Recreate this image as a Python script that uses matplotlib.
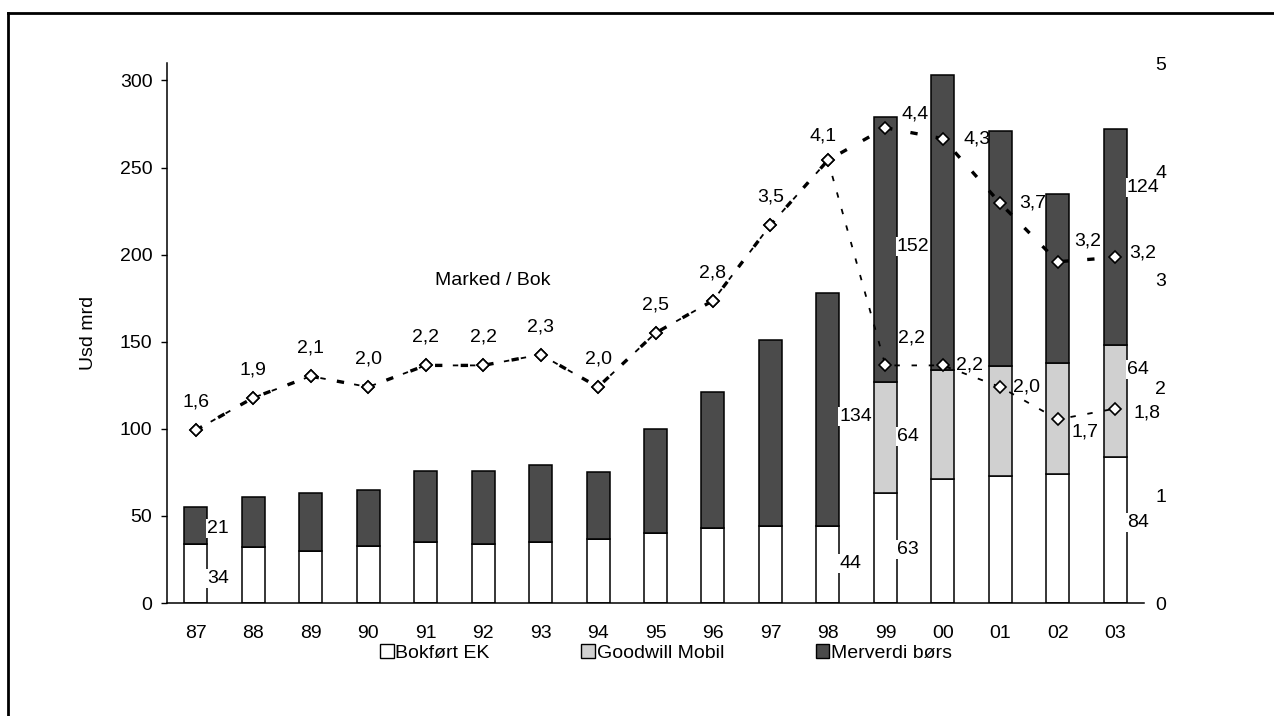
import matplotlib.pyplot as plt
from matplotlib.patches import Patch
from matplotlib.lines import Line2D
import numpy as np

plt.rcParams['font.family'] = ['Liberation Sans', 'DejaVu Sans']
plt.rcParams['font.size'] = 14

# data, USD mrd per year
years = ['87', '88', '89', '90', '91', '92', '93', '94', '95', '96', '97', '98',
         '99', '00', '01', '02', '03']
bokfort = [34, 32, 30, 33, 35, 34, 35, 37, 40, 43, 44, 44, 63, 71, 73, 74, 84]
goodwill = [0, 0, 0, 0, 0, 0, 0, 0, 0, 0, 0, 0, 64, 63, 63, 64, 64]
merverdi = [21, 29, 33, 32, 41, 42, 44, 38, 60, 78, 107, 134, 152, 169, 135, 97, 124]

# Marked / Bok ratio, two variants (with and without goodwill)
mb_a = [1.6, 1.9, 2.1, 2.0, 2.2, 2.2, 2.3, 2.0, 2.5, 2.8, 3.5, 4.1, 4.4, 4.3, 3.7, 3.16, 3.2]
mb_b = [1.6, 1.9, 2.1, 2.0, 2.2, 2.2, 2.3, 2.0, 2.5, 2.8, 3.5, 4.1, 2.2, 2.2, 2.0, 1.7, 1.8]

labels = ['Bokført EK', 'Goodwill Mobil', 'Merverdi børs']
colors = ['white', '#d0d0d0', '#4b4b4b']

x = np.arange(len(years))
bot2 = np.array(bokfort) + np.array(goodwill)

fig = plt.figure(figsize=(12.74, 7.16), dpi=100)
ax = fig.add_axes([167 / 1274, 1 - 603 / 716, 977 / 1274, 540 / 716])

w = 0.4
ax.bar(x, bokfort, w, color=colors[0], edgecolor='black', linewidth=1.1, zorder=2)
ax.bar(x, goodwill, w, bottom=bokfort, color=colors[1], edgecolor='black', linewidth=1.1, zorder=2)
ax.bar(x, merverdi, w, bottom=bot2, color=colors[2], edgecolor='black', linewidth=1.1, zorder=2)

ax.set_xlim(-0.5, len(years) - 0.5)
ax.set_ylim(0, 310)
ax.set_yticks(range(0, 301, 50))
ax.set_xticks(x)
ax.set_xticklabels(years)
ax.tick_params(axis='x', length=0, pad=16)
ax.tick_params(axis='y', length=4.5, width=1, pad=6)
for s in ['top', 'right']:
    ax.spines[s].set_visible(False)
ax.spines['left'].set_linewidth(1.1)
ax.spines['bottom'].set_linewidth(1.1)
ax.set_ylabel('Usd mrd')
ax.yaxis.set_label_coords(-0.072, 0.5)

# value labels next to selected bars: (index, series, fraction of segment)
series = [bokfort, goodwill, merverdi]
bottoms = [np.zeros(len(years)), np.array(bokfort), bot2]
bar_labels = [(0, 0, 0.42), (0, 2, 0.43), (11, 0, 0.52), (11, 2, 0.47),
              (12, 0, 0.49), (12, 1, 0.51), (12, 2, 0.51),
              (16, 0, 0.55), (16, 1, 0.78), (16, 2, 0.73)]
for i, k, f in bar_labels:
    v = series[k][i]
    ax.annotate(str(v), (i + w / 2, bottoms[k][i] + v * f), xytext=(0, 0),
                textcoords='offset pixels', ha='left', va='center', zorder=5,
                bbox=dict(boxstyle='square,pad=0.05', fc='white', ec='none'))

# ratio lines on the secondary axis
ax2 = ax.twinx()
ax2.set_ylim(0, 5)
ax2.set_yticks(range(0, 6))
ax2.tick_params(axis='y', length=0, pad=8)
for s in ax2.spines.values():
    s.set_visible(False)

ax2.plot(x, mb_b, color='black', lw=1.3, dashes=(3, 6.5), marker='D', ms=6.5,
         mfc='white', mec='black', mew=1.2, zorder=3)
ax2.plot(x, mb_a, color='black', lw=2.4, dashes=(2.2, 5.5), marker='D', ms=6.5,
         mfc='white', mec='black', mew=1.2, zorder=4)

fmt = lambda v: f'{v:.1f}'.replace('.', ',')
off_a = [(0, 28)] * 11 + [(-5, 24), (30, 14), (34, 0), (32, 0), (30, 21), (27, 4)]
for i, v in enumerate(mb_a):
    ax2.annotate(fmt(v), (i, v), xytext=off_a[i], textcoords='offset pixels',
                 ha='center', va='center', zorder=1)
off_b = [(26, 27), (27, 0), (26, 0), (27, -13), (32, -4)]
for j, i in enumerate(range(12, len(years))):
    ax2.annotate(fmt(mb_b[i]), (i, mb_b[i]), xytext=off_b[j], textcoords='offset pixels',
                 ha='center', va='center', zorder=1)

ax2.text(0.333, 0.598, 'Marked / Bok', transform=ax2.transAxes, ha='center', va='center')

# keep bars over the line labels but under the line markers
ax.set_zorder(0)
ax2.set_zorder(1)
ax2.patch.set_visible(False)

handles = [Patch(facecolor=c, edgecolor='black', linewidth=1) for c in colors]
fig.legend(handles, labels, loc='center', bbox_to_anchor=(666 / 1274, 1 - 653 / 716),
           ncol=3, frameon=False, handlelength=0.7, handleheight=0.7,
           handletextpad=0.1, columnspacing=4.7)

# outer frame
fig.add_artist(Line2D([8 / 1274, 8 / 1274], [0, 1 - 13 / 716], color='black', lw=2))
fig.add_artist(Line2D([8 / 1274, 1], [1 - 13 / 716, 1 - 13 / 716], color='black', lw=2))

fig.savefig('out.png', dpi=100)
